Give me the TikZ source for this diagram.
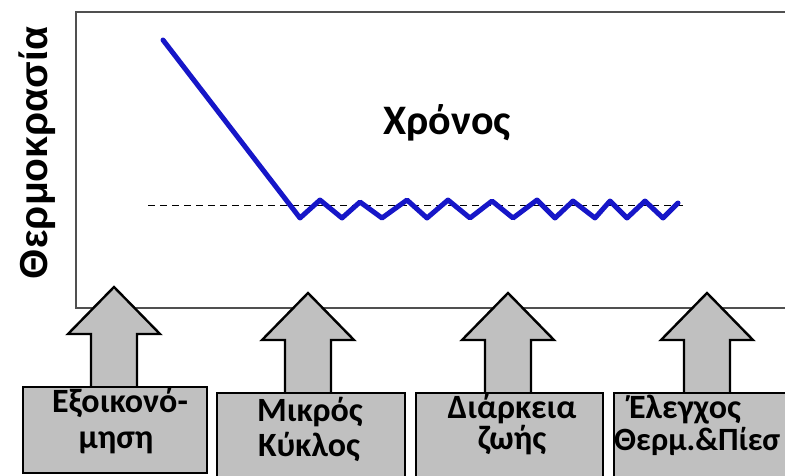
\documentclass[tikz,border=0pt]{standalone}
\usepackage{fontspec}
\setmainfont{Carlito}
\newfontfamily\axisfont{Liberation Sans}
\definecolor{framegray}{RGB}{80,80,80}
\definecolor{fillgray}{RGB}{192,192,192}
\definecolor{curveblue}{RGB}{22,22,200}
\tikzset{
  frameline/.style={draw=framegray, line width=1.6pt},
  shapeline/.style={draw=black, fill=fillgray, line width=2.4pt, line join=miter},
  labelbox/.style={shapeline, rectangle, inner sep=0pt, anchor=north west},
  boxtext/.style={font=\bfseries\fontsize{34}{38}\selectfont, anchor=base, inner sep=0pt},
  curve/.style={draw=curveblue, line width=5pt, line join=round, line cap=round},
  setpoint/.style={draw=black, line width=1pt, dash pattern=on 7pt off 5pt},
  upArrow/.pic={
    \draw[shapeline] (0,0) -- (46,47) -- (23,47) -- (23,104) -- (-23,104)
      -- (-23,47) -- (-46,47) -- cycle;
  }
}
\begin{document}
\begin{tikzpicture}[x=1pt,y=-1pt]
\useasboundingbox (0,0) rectangle (785,475);
\fill[white] (0,0) rectangle (785,475);

% plot frame, open to the right
\draw[frameline] (786,12) -- (76,12) -- (76,308) -- (786,308);

% set point and temperature curve
\coordinate (sp0) at (148,205);
\coordinate (sp1) at (683,205);
\draw[setpoint] (sp0) -- (sp1);
\draw[curve] (163,40) -- (300,218) -- (320,200) -- (342,218) -- (360,202)
  -- (382,218) -- (407,200) -- (427,218) -- (448,200) -- (470,218)
  -- (492,201) -- (513,218) -- (537,200) -- (555,218) -- (573,201)
  -- (595,218) -- (610,201) -- (627,218) -- (645,201) -- (663,218)
  -- (678,203);

% axis labels
\node[font=\bfseries\fontsize{42}{42}\selectfont, anchor=base] (time) at (447,134) {Χρόνος};
\node[font=\axisfont\bfseries\fontsize{39}{39}\selectfont, rotate=90, anchor=base] (temp) at (47,153) {Θερμοκρασία};

% arrows pointing into the plot
\pic at (114,287) {upArrow};
\pic at (308,293) {upArrow};
\pic at (508,293) {upArrow};
\pic at (707,293) {upArrow};

% labelled boxes
\node[labelbox, minimum width=184pt, minimum height=86pt] (b1) at (22,386) {};
\node[labelbox, minimum width=188pt, minimum height=95pt] (b2) at (216,392) {};
\node[labelbox, minimum width=187pt, minimum height=95pt] (b3) at (415,392) {};
\node[labelbox, minimum width=190pt, minimum height=95pt] (b4) at (613,392) {};

\node[boxtext] (t1a) at (120,412) {Εξοικονό-};
\node[boxtext] (t1b) at (116,448) {μηση};
\node[boxtext] (t2a) at (310,421) {Μικρός};
\node[boxtext] (t2b) at (309,456) {Κύκλος};
\node[boxtext] (t3a) at (512,418) {Διάρκεια};
\node[boxtext] (t3b) at (512,449) {ζωής};
\node[boxtext] (t4a) at (685,418) {Έλεγχος};
\node[boxtext, font=\bfseries\fontsize{32.5}{38}\selectfont, anchor=base west] (t4b) at (614,450) {Θερμ.\&Πίεσ};
\end{tikzpicture}
\end{document}
